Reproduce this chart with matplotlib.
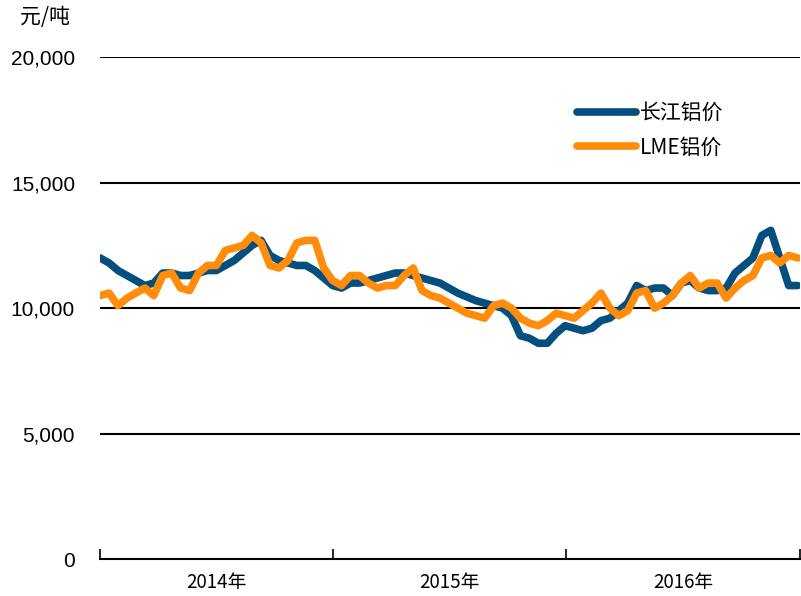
import numpy as np
import pandas as pd
import matplotlib
matplotlib.use("Agg")
import matplotlib.pyplot as plt

plt.rcParams['font.family'] = ['Liberation Sans', 'Noto Sans CJK SC']

# bi-weekly readings, 2014-01 .. 2016-12 (元/吨)
dates = pd.date_range('2014-01-01', periods=79, freq='14D')

changjiang = [12000, 11800, 11500, 11300, 11100, 10900, 11000, 11400, 11400, 11300,
              11300, 11400, 11500, 11500, 11700, 11900, 12200, 12500, 12700, 12100,
              11900, 11800, 11700, 11700, 11500, 11200, 10900, 10800, 11000, 11000,
              11100, 11200, 11300, 11400, 11400, 11300, 11200, 11100, 11000, 10800,
              10600, 10450, 10300, 10200, 10100, 10000, 9700, 8900, 8800, 8600,
              8600, 9000, 9300, 9200, 9100, 9200, 9500, 9600, 9900, 10200,
              10900, 10700, 10800, 10800, 10500, 11000, 11100, 10800, 10700, 10700,
              10800, 11400, 11700, 12000, 12900, 13100, 12000, 10900, 10900]

lme = [10500, 10600, 10100, 10400, 10600, 10800, 10500, 11300, 11400, 10800,
       10700, 11400, 11700, 11700, 12300, 12400, 12500, 12900, 12600, 11700,
       11600, 11900, 12600, 12700, 12700, 11600, 11100, 10900, 11300, 11300,
       11000, 10800, 10900, 10900, 11300, 11600, 10700, 10500, 10400, 10200,
       10000, 9800, 9700, 9600, 10100, 10200, 10000, 9600, 9400, 9300,
       9500, 9800, 9700, 9600, 9900, 10200, 10600, 10000, 9700, 9900,
       10600, 10700, 10000, 10200, 10500, 11000, 11300, 10800, 11000, 11000,
       10400, 10800, 11100, 11300, 12000, 12100, 11800, 12100, 12000]

year_labels = ['2014年', '2015年', '2016年']
yticks = [0, 5000, 10000, 15000, 20000]
blue = '#044f7e'
orange = '#ff8c0a'

fig = plt.figure(figsize=(8.01, 5.96), dpi=100)
ax = fig.add_axes([0.125, 0.062, 0.874, 0.842])

ax.plot(dates, changjiang, color=blue, lw=5.5, solid_capstyle='round', solid_joinstyle='round', label='长江铝价')
ax.plot(dates, lme, color=orange, lw=5.5, solid_capstyle='round', solid_joinstyle='round', label='LME铝价')

ax.set_ylim(0, 20000)
ax.set_yticks(yticks)
ax.set_yticklabels(['{:,}'.format(v) for v in yticks], fontsize=15)
for v in yticks[1:]:
    ax.axhline(v, color='black', lw=1.5, zorder=0)
ax.tick_params(axis='y', length=0, pad=18)

ax.set_xlim(pd.Timestamp('2014-01-01'), pd.Timestamp('2017-01-01'))
years = [pd.Timestamp(f'{y}-01-01') for y in range(2014, 2018)]
ax.set_xticks(years)
ax.set_xticklabels([])
mids = [pd.Timestamp(f'{y}-07-02') for y in range(2014, 2017)]
ax.set_xticks(mids, minor=True)
ax.set_xticklabels(year_labels, minor=True, fontsize=13.5, family=['Noto Sans CJK SC'])
ax.tick_params(axis='x', which='major', direction='in', length=7, width=1.2)
ax.tick_params(axis='x', which='minor', length=0, pad=9)

for s in ['top', 'right', 'left']:
    ax.spines[s].set_visible(False)
ax.spines['bottom'].set_linewidth(1.5)

fig.text(0.025, 0.962, '元/吨', fontsize=15, family=['Noto Sans CJK SC'])

leg = ax.legend(loc='upper left', bbox_to_anchor=(0.655, 0.948), frameon=False,
                handlelength=2.8, handletextpad=0.2, labelspacing=0.6,
                prop={'family': ['Noto Sans CJK SC'], 'size': 15})
for line in leg.get_lines():
    line.set_linewidth(5.5)

fig.savefig('out.png', dpi=100)
